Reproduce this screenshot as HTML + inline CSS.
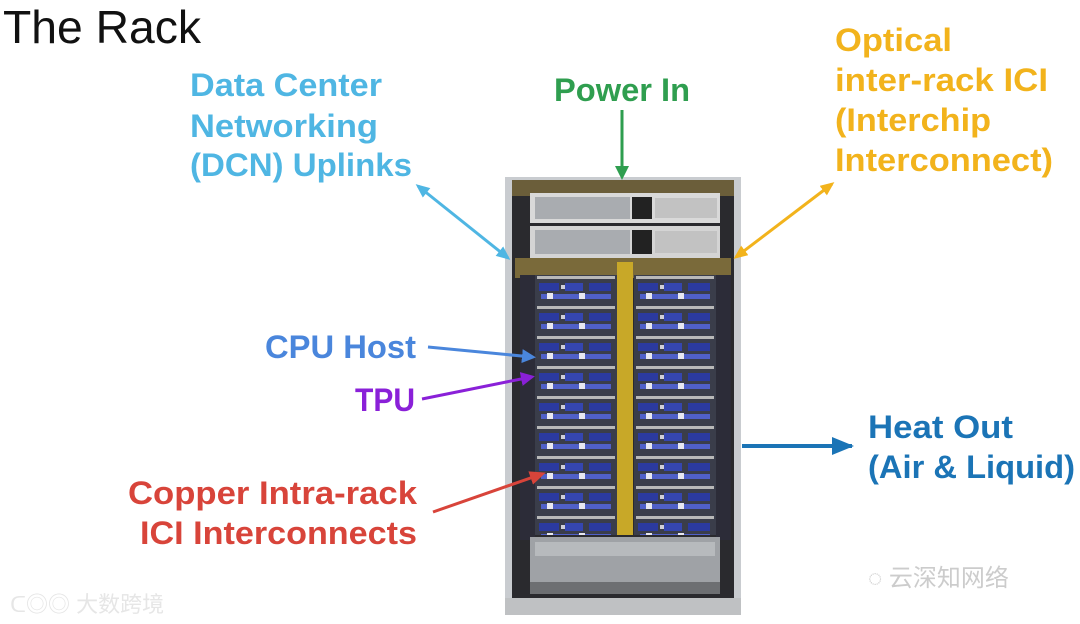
<!DOCTYPE html>
<html><head><meta charset="utf-8"><style>
html,body{margin:0;padding:0;background:#fff;}
svg{display:block;}
text{font-family:"Liberation Sans","Noto Sans CJK SC",sans-serif;font-weight:bold;}
</style></head><body>
<svg width="1080" height="624" viewBox="0 0 1080 624" xmlns="http://www.w3.org/2000/svg">
<defs>
<marker id="ac" markerWidth="14" markerHeight="12" refX="11" refY="6" orient="auto-start-reverse" markerUnits="userSpaceOnUse"><path d="M0,0 L14,6 L0,12 Z" fill="#4fb6e3"/></marker>
<marker id="ag" markerWidth="14" markerHeight="14" refX="10" refY="7" orient="auto" markerUnits="userSpaceOnUse"><path d="M0,0 L14,7 L0,14 Z" fill="#2f9e4f"/></marker>
<marker id="ay" markerWidth="14" markerHeight="12" refX="11" refY="6" orient="auto-start-reverse" markerUnits="userSpaceOnUse"><path d="M0,0 L14,6 L0,12 Z" fill="#f2b31c"/></marker>
<marker id="ab" markerWidth="14" markerHeight="14" refX="10" refY="7" orient="auto" markerUnits="userSpaceOnUse"><path d="M0,0 L14,7 L0,14 Z" fill="#4a86dc"/></marker>
<marker id="ap" markerWidth="14" markerHeight="14" refX="10" refY="7" orient="auto" markerUnits="userSpaceOnUse"><path d="M0,0 L14,7 L0,14 Z" fill="#8a20d8"/></marker>
<marker id="ah" markerWidth="22" markerHeight="18" refX="20" refY="9" orient="auto" markerUnits="userSpaceOnUse"><path d="M0,0 L22,9 L0,18 Z" fill="#1b74b6"/></marker>
<marker id="ar" markerWidth="16" markerHeight="14" refX="12" refY="7" orient="auto" markerUnits="userSpaceOnUse"><path d="M0,0 L16,7 L0,14 Z" fill="#d8443a"/></marker>
<g id="srvunit">
<rect width="82" height="30" fill="#3a3d4a"/>
<rect x="2" y="1" width="78" height="3" fill="#b8b8b8"/>
<rect x="4" y="8" width="20" height="8" fill="#2b3aa0"/>
<rect x="30" y="8" width="18" height="8" fill="#3546b0"/>
<rect x="54" y="8" width="22" height="8" fill="#2b3aa0"/>
<rect x="6" y="19" width="70" height="5" fill="#5060c8"/>
<rect x="12" y="18" width="6" height="6" fill="#e8e8f0"/>
<rect x="44" y="18" width="6" height="6" fill="#e8e8f0"/>
<rect x="26" y="10" width="4" height="4" fill="#cfcfd8"/>
</g>
<pattern id="srvL" x="535" y="275" width="82" height="30" patternUnits="userSpaceOnUse"><use href="#srvunit"/></pattern>
<pattern id="srvR" x="634" y="275" width="82" height="30" patternUnits="userSpaceOnUse"><use href="#srvunit"/></pattern>
</defs>

<text x="3" y="43" font-size="46" style="font-weight:normal" fill="#111" textLength="198" lengthAdjust="spacingAndGlyphs">The Rack</text>

<rect x="505" y="177" width="236" height="438" fill="#c9ccd0"/>
<rect x="512" y="180" width="222" height="420" fill="#2a2a2e"/>
<rect x="512" y="180" width="222" height="16" fill="#6b5e3a"/>
<rect x="530" y="193" width="190" height="30" fill="#d9d9d9"/>
<rect x="535" y="197" width="95" height="22" fill="#a9acb0"/>
<rect x="632" y="197" width="20" height="22" fill="#222"/>
<rect x="655" y="198" width="62" height="20" fill="#c2c2c2"/>
<rect x="530" y="226" width="190" height="32" fill="#d4d4d4"/>
<rect x="535" y="230" width="95" height="24" fill="#a9acb0"/>
<rect x="632" y="230" width="20" height="24" fill="#222"/>
<rect x="655" y="231" width="62" height="22" fill="#c2c2c2"/>
<rect x="515" y="258" width="216" height="20" fill="#7a6a3a"/>
<rect x="535" y="275" width="82" height="260" fill="url(#srvL)"/>
<rect x="634" y="275" width="82" height="260" fill="url(#srvR)"/>
<rect x="617" y="262" width="16" height="273" fill="#c8a828"/>
<rect x="520" y="275" width="15" height="265" fill="#2c2c38"/>
<rect x="716" y="275" width="15" height="265" fill="#2c2c38"/>
<rect x="530" y="537" width="190" height="45" fill="#9fa2a6"/>
<rect x="535" y="542" width="180" height="14" fill="#b7babd"/>
<rect x="530" y="582" width="190" height="12" fill="#6d6f72"/>
<rect x="505" y="598" width="236" height="17" fill="#bfc1c3"/>

<g fill="#4fb6e3" font-size="32">
<text x="190" y="96" textLength="192" lengthAdjust="spacingAndGlyphs">Data Center</text>
<text x="190" y="137" textLength="188" lengthAdjust="spacingAndGlyphs">Networking</text>
<text x="190" y="176" textLength="222" lengthAdjust="spacingAndGlyphs">(DCN) Uplinks</text>
</g>
<text x="554" y="101" font-size="32" fill="#2f9e4f" textLength="136" lengthAdjust="spacingAndGlyphs">Power In</text>
<g fill="#f2b31c" font-size="32">
<text x="835" y="51" textLength="117" lengthAdjust="spacingAndGlyphs">Optical</text>
<text x="835" y="91" textLength="213" lengthAdjust="spacingAndGlyphs">inter-rack ICI</text>
<text x="835" y="131" textLength="156" lengthAdjust="spacingAndGlyphs">(Interchip</text>
<text x="835" y="171" textLength="218" lengthAdjust="spacingAndGlyphs">Interconnect)</text>
</g>
<text x="265" y="358" font-size="32" fill="#4a86dc" textLength="151" lengthAdjust="spacingAndGlyphs">CPU Host</text>
<text x="355" y="411" font-size="32" fill="#8a20d8" textLength="60" lengthAdjust="spacingAndGlyphs">TPU</text>
<g fill="#1b74b6" font-size="32">
<text x="868" y="438" textLength="145" lengthAdjust="spacingAndGlyphs">Heat Out</text>
<text x="868" y="478" textLength="207" lengthAdjust="spacingAndGlyphs">(Air &amp; Liquid)</text>
</g>
<g fill="#d8443a" font-size="32">
<text x="128" y="504" textLength="289" lengthAdjust="spacingAndGlyphs">Copper Intra-rack</text>
<text x="140" y="544" textLength="277" lengthAdjust="spacingAndGlyphs">ICI Interconnects</text>
</g>

<line x1="418" y1="186" x2="508" y2="258" stroke="#4fb6e3" stroke-width="3" marker-start="url(#ac)" marker-end="url(#ac)"/>
<line x1="622" y1="110" x2="622" y2="176" stroke="#2f9e4f" stroke-width="3" marker-end="url(#ag)"/>
<line x1="832" y1="184" x2="736" y2="257" stroke="#f2b31c" stroke-width="3" marker-start="url(#ay)" marker-end="url(#ay)"/>
<line x1="428" y1="347" x2="532" y2="357" stroke="#4a86dc" stroke-width="3" marker-end="url(#ab)"/>
<line x1="422" y1="399" x2="531" y2="377" stroke="#8a20d8" stroke-width="3" marker-end="url(#ap)"/>
<line x1="742" y1="446" x2="852" y2="446" stroke="#1b74b6" stroke-width="4" marker-end="url(#ah)"/>
<line x1="433" y1="512" x2="542" y2="474" stroke="#d8443a" stroke-width="3" marker-end="url(#ar)"/>

<text x="10" y="612" font-size="22" fill="#e6e6e6" style="font-weight:normal">ᑕ◎◎ 大数跨境</text>
<text x="868" y="586" font-size="24" fill="#cccccc" style="font-weight:normal">◌ 云深知网络</text>
</svg>
</body></html>
